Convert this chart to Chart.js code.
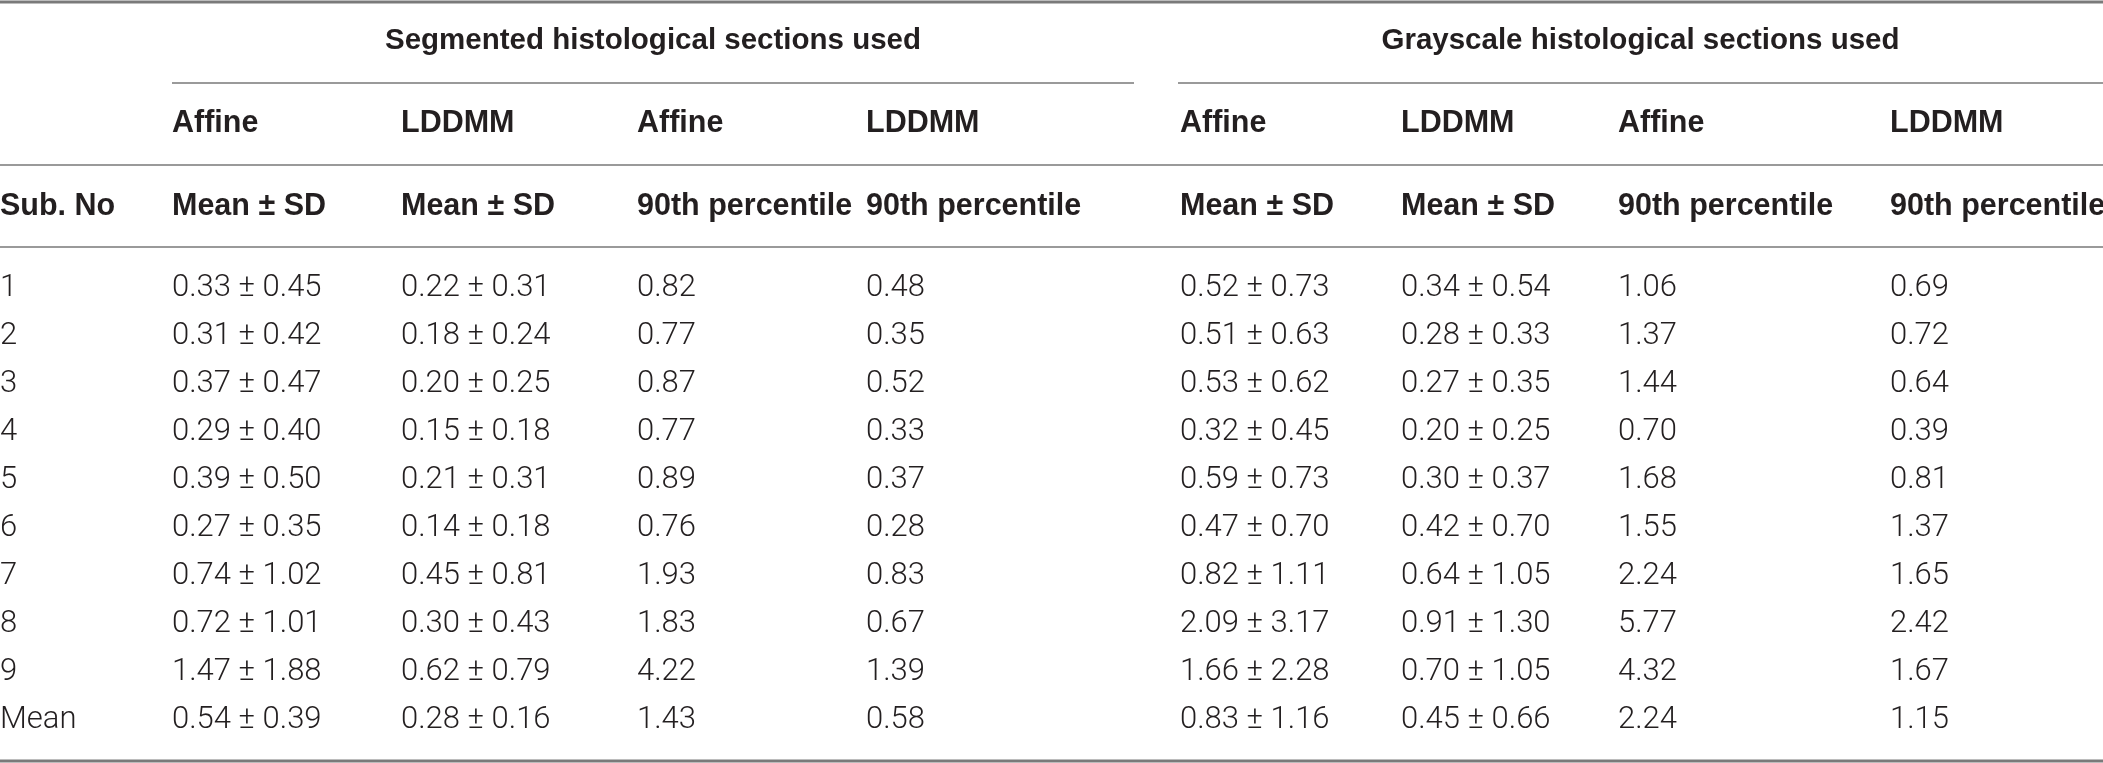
<!DOCTYPE html>
<html lang="en">
<head>
    <title>Registration error table</title>
    <script src="https://cdn.jsdelivr.net/npm/chart.js@4.4.1/dist/chart.umd.min.js"></script>
    <style>
        html, body { margin: 0; padding: 0; background: #ffffff; }
        #tableChart { display: block; }
    </style>
</head>
<body>
<canvas id="tableChart" width="2103" height="763"></canvas>

<script type="text/javascript">

    // row labels
    const subjects = ["1", "2", "3", "4", "5", "6", "7", "8", "9", "Mean"];

    // column headers
    const groupTitles = ["Segmented histological sections used", "Grayscale histological sections used"];
    const methods = ["Affine", "LDDMM", "Affine", "LDDMM", "Affine", "LDDMM", "Affine", "LDDMM"];
    const stats = ["Mean \u00b1 SD", "Mean \u00b1 SD", "90th percentile", "90th percentile",
                   "Mean \u00b1 SD", "Mean \u00b1 SD", "90th percentile", "90th percentile"];
    const firstHeader = "Sub. No";

    // segmented sections
    const segAffineMean = [0.33, 0.31, 0.37, 0.29, 0.39, 0.27, 0.74, 0.72, 1.47, 0.54];
    const segAffineSD   = [0.45, 0.42, 0.47, 0.40, 0.50, 0.35, 1.02, 1.01, 1.88, 0.39];
    const segLddmmMean  = [0.22, 0.18, 0.20, 0.15, 0.21, 0.14, 0.45, 0.30, 0.62, 0.28];
    const segLddmmSD    = [0.31, 0.24, 0.25, 0.18, 0.31, 0.18, 0.81, 0.43, 0.79, 0.16];
    const segAffineP90  = [0.82, 0.77, 0.87, 0.77, 0.89, 0.76, 1.93, 1.83, 4.22, 1.43];
    const segLddmmP90   = [0.48, 0.35, 0.52, 0.33, 0.37, 0.28, 0.83, 0.67, 1.39, 0.58];

    // grayscale sections
    const grayAffineMean = [0.52, 0.51, 0.53, 0.32, 0.59, 0.47, 0.82, 2.09, 1.66, 0.83];
    const grayAffineSD   = [0.73, 0.63, 0.62, 0.45, 0.73, 0.70, 1.11, 3.17, 2.28, 1.16];
    const grayLddmmMean  = [0.34, 0.28, 0.27, 0.20, 0.30, 0.42, 0.64, 0.91, 0.70, 0.45];
    const grayLddmmSD    = [0.54, 0.33, 0.35, 0.25, 0.37, 0.70, 1.05, 1.30, 1.05, 0.66];
    const grayAffineP90  = [1.06, 1.37, 1.44, 0.70, 1.68, 1.55, 2.24, 5.77, 4.32, 2.24];
    const grayLddmmP90   = [0.69, 0.72, 0.64, 0.39, 0.81, 1.37, 1.65, 2.42, 1.67, 1.15];

    // layout (table pixel units on the hidden scales)
    const colX = [0, 172, 401, 637, 866, 1180, 1401, 1618, 1890];
    const groupSpan = [[172, 1134], [1178, 2103]];
    const headerY = [41, 124, 207];
    const firstRowY = 288;
    const rowStep = 48;
    const ruleY = [2, 165, 247, 761];
    const groupRuleY = 83;

    const textColor = "#231f20";
    const ruleColor = "#9a9a9a";
    const groupFont = "bold 29.5px 'Liberation Sans', Arial, sans-serif";
    const headFont = "bold 30.5px 'Liberation Sans', Arial, sans-serif";
    const bodyFont = "300 31px Roboto, 'Liberation Sans', sans-serif";

    const fmt = v => v.toFixed(2);
    const meanSd = (m, s) => m.map((v, i) => fmt(v) + " \u00b1 " + fmt(s[i]));

    const columns = [
        subjects,
        meanSd(segAffineMean, segAffineSD),
        meanSd(segLddmmMean, segLddmmSD),
        segAffineP90.map(fmt),
        segLddmmP90.map(fmt),
        meanSd(grayAffineMean, grayAffineSD),
        meanSd(grayLddmmMean, grayLddmmSD),
        grayAffineP90.map(fmt),
        grayLddmmP90.map(fmt)
    ];

    const datasets = columns.map((texts, c) => ({
        label: c === 0 ? firstHeader : stats[c - 1],
        texts: texts,
        data: texts.map((t, r) => ({x: colX[c], y: firstRowY + r * rowStep})),
        pointRadius: 0,
        pointHoverRadius: 0,
        showLine: false
    }));

    const tablePlugin = {
        id: "tableText",
        afterDatasetsDraw(chart) {
            const ctx = chart.ctx;
            const xs = chart.scales.x;
            const ys = chart.scales.y;
            ctx.save();

            // rules, the outer ones heavier
            ruleY.forEach((y, i) => {
                const outer = i === 0 || i === ruleY.length - 1;
                ctx.lineWidth = outer ? 3 : 2;
                ctx.strokeStyle = outer ? "#7a7a7a" : ruleColor;
                ctx.beginPath();
                ctx.moveTo(xs.getPixelForValue(0), ys.getPixelForValue(y));
                ctx.lineTo(xs.getPixelForValue(2103), ys.getPixelForValue(y));
                ctx.stroke();
            });
            ctx.strokeStyle = ruleColor;
            ctx.lineWidth = 2;
            groupSpan.forEach(span => {
                ctx.beginPath();
                ctx.moveTo(xs.getPixelForValue(span[0]), ys.getPixelForValue(groupRuleY));
                ctx.lineTo(xs.getPixelForValue(span[1]), ys.getPixelForValue(groupRuleY));
                ctx.stroke();
            });

            ctx.fillStyle = textColor;
            ctx.textBaseline = "middle";

            // header rows
            ctx.font = groupFont;
            ctx.textAlign = "center";
            groupTitles.forEach((t, g) => {
                const cx = (xs.getPixelForValue(groupSpan[g][0]) + xs.getPixelForValue(groupSpan[g][1])) / 2;
                ctx.fillText(t, cx, ys.getPixelForValue(headerY[0]));
            });
            ctx.font = headFont;
            ctx.textAlign = "left";
            methods.forEach((t, i) => {
                ctx.fillText(t, xs.getPixelForValue(colX[i + 1]), ys.getPixelForValue(headerY[1]));
            });
            ctx.fillText(firstHeader, xs.getPixelForValue(colX[0]), ys.getPixelForValue(headerY[2]));
            stats.forEach((t, i) => {
                ctx.fillText(t, xs.getPixelForValue(colX[i + 1]), ys.getPixelForValue(headerY[2]));
            });

            // body cells, placed by the dataset points
            ctx.font = bodyFont;
            chart.data.datasets.forEach((ds, d) => {
                const meta = chart.getDatasetMeta(d);
                meta.data.forEach((pt, r) => {
                    ctx.fillText(ds.texts[r], pt.x, pt.y);
                });
            });
            ctx.restore();
        }
    };

    new Chart("tableChart", {
        type: "scatter",
        data: {datasets: datasets},
        options: {
            responsive: false,
            animation: false,
            devicePixelRatio: 1,
            layout: {padding: 0},
            plugins: {
                legend: {display: false},
                tooltip: {enabled: false},
                title: {display: false}
            },
            scales: {
                x: {type: "linear", min: 0, max: 2103, display: false},
                y: {type: "linear", min: 0, max: 763, reverse: true, display: false}
            }
        },
        plugins: [tablePlugin]
    });

</script>
</body>
</html>
